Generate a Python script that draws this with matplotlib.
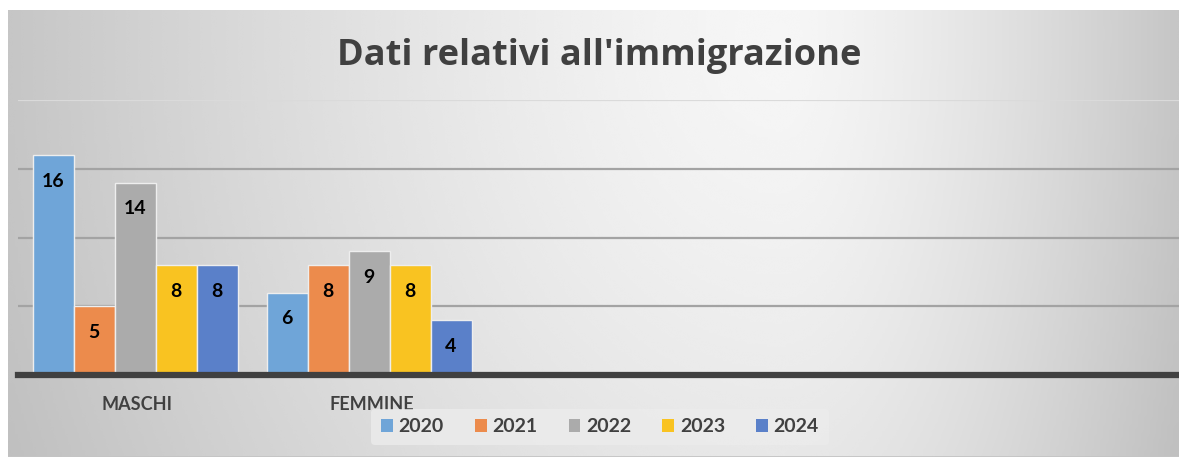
import numpy as np
import matplotlib.pyplot as plt
from matplotlib.patches import Patch
from matplotlib.transforms import blended_transform_factory

# data
categories = ["MASCHI", "FEMMINE"]
years = ["2020", "2021", "2022", "2023", "2024"]
values = {
    "2020": [16, 6],
    "2021": [5, 8],
    "2022": [14, 9],
    "2023": [8, 8],
    "2024": [8, 4],
}
colours = ["#6FA5D8", "#EC8B4C", "#ABABAB", "#F9C321", "#5A80C9"]

plt.rcParams["font.family"] = ["Lato", "DejaVu Sans"]

W, H = 1179, 457
fig = plt.figure(figsize=(W / 100, H / 100), dpi=100)
fig.patch.set_facecolor("white")

# gradient background of the chart area (light spot near the top, darker edges)
bg = fig.add_axes([8 / W, 0, 1 - 8 / W, (H - 10) / H])
bg.set_axis_off()
gx, gy = np.meshgrid(np.linspace(0, 1, 400), np.linspace(0, 1, 160))
cx = 0.66
sx = np.where(gx < cx, cx, 1 - cx)
d = np.sqrt(((gx - cx) / sx) ** 2 + ((gy - 0.05) / 2.2) ** 2)
shade = 0.965 - 0.19 * np.clip(d, 0, 1.2) ** 1.4
bg.imshow(shade, cmap="gray", vmin=0, vmax=1, aspect="auto",
          extent=[0, 1, 1, 0], interpolation="bicubic")
bg.axhline(1, color="#c4c4c4", lw=2)
bg.set_xlim(0, 1)
bg.set_ylim(1, 0)

# plot area
x0, ybase, ytop = 18, 375, 100
cat_w = 234
ax = fig.add_axes([x0 / W, (H - ybase) / H, 1 - x0 / W, (ybase - ytop) / H])
ax.patch.set_alpha(0)
for s in ax.spines.values():
    s.set_visible(False)
ax.set_ylim(0, 20)
ax.set_xlim(-0.5, (W - x0) / cat_w - 0.5)
ax.set_xticks([])
ax.set_yticks([])

for yv in [5, 10, 15]:
    ax.axhline(yv, color="#a3a3a3", lw=1.6, zorder=0)
ax.axhline(20, color="#dadada", lw=1.6, zorder=0)

n = len(years)
bw = 41 / cat_w
x = np.arange(len(categories))
for i, (yr, c) in enumerate(zip(years, colours)):
    xs = x + (i - (n - 1) / 2) * bw
    bars = ax.bar(xs, values[yr], bw, color=c, edgecolor="#eeeeee", lw=1.0,
                  zorder=2)
    for b, v in zip(bars, values[yr]):
        ax.text(b.get_x() + b.get_width() / 2, v - 1.9, str(v), ha="center",
                va="center", fontsize=14, fontweight="bold", color="black",
                zorder=3)

ax.axhline(0, color="#404040", lw=4.5, zorder=4, clip_on=False)

trans = blended_transform_factory(ax.transData, fig.transFigure)
for xi, lab in zip(x, categories):
    ax.text(xi + 0.01, 1 - 404 / H, lab, transform=trans, ha="center",
            va="center", fontsize=13, fontweight="bold", color="#404040")

fig.text(599 / W, 1 - 56 / H, "Dati relativi all'immigrazione", ha="center",
         va="center", fontsize=26, fontweight="bold", color="#404040",
         family=["Open Sans", "DejaVu Sans"])

handles = [Patch(facecolor=c, edgecolor="none") for c in colours]
leg = fig.legend(handles, years, loc="center", bbox_to_anchor=(600 / W, 1 - 427 / H),
                 ncol=5, frameon=True, fontsize=14, handlelength=0.6,
                 handleheight=0.6, handletextpad=0.3, columnspacing=1.6,
                 borderpad=0.5)
leg.get_frame().set_facecolor("#ececec")
leg.get_frame().set_edgecolor("none")
leg.get_frame().set_alpha(0.8)
for t in leg.get_texts():
    t.set_fontweight("bold")
    t.set_color("#404040")

fig.savefig("out.png", dpi=100)
